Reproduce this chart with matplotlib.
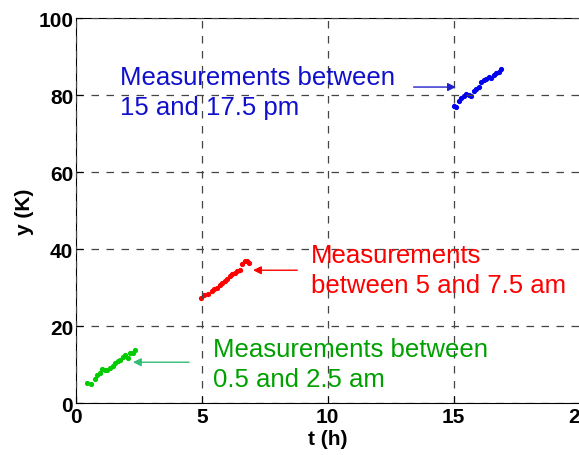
import matplotlib.pyplot as plt

# data
t_am_early = [0.45, 0.6, 0.75, 0.85, 0.95, 1.05, 1.15, 1.25, 1.35, 1.45, 1.55, 1.65, 1.75, 1.85, 1.95, 2.05, 2.15, 2.25, 2.35]
y_am_early = [5.1, 4.9, 6.2, 7.3, 7.8, 8.8, 8.7, 8.6, 9.0, 9.7, 10.3, 10.9, 11.3, 12.0, 12.6, 11.6, 13.0, 13.1, 13.7]

t_am = [4.98, 5.1, 5.25, 5.4, 5.5, 5.6, 5.7, 5.8, 5.9, 6.0, 6.1, 6.2, 6.3, 6.4, 6.5, 6.6, 6.7, 6.8, 6.87]
y_am = [27.3, 28.1, 28.4, 29.2, 29.6, 30.0, 30.6, 31.3, 31.7, 32.2, 32.9, 33.5, 33.8, 34.2, 34.6, 36.0, 36.8, 37.0, 36.5]

t_pm = [15.02, 15.1, 15.2, 15.3, 15.4, 15.5, 15.6, 15.7, 15.8, 15.9, 16.0, 16.1, 16.2, 16.3, 16.4, 16.5, 16.6, 16.7, 16.8, 16.9]
y_pm = [77.3, 76.8, 78.5, 79.2, 79.8, 80.3, 80.1, 79.8, 81.1, 81.6, 82.1, 83.3, 83.9, 84.3, 84.6, 84.4, 85.3, 85.8, 86.1, 86.7]

blue = '#0000ee'
red = '#ff0000'
green = '#00cc00'

plt.rcParams['font.family'] = ['Liberation Sans', 'DejaVu Sans']

fig = plt.figure(figsize=(5.79, 4.56), dpi=100)
ax = fig.add_axes([0.1313, 0.114, 0.8696, 0.844])

ax.plot(t_am_early, y_am_early, '.', color=green, markersize=5.5)
ax.plot(t_am, y_am, '.', color=red, markersize=5.5)
ax.plot(t_pm, y_pm, '.', color=blue, markersize=5.5)

ax.set_xlim(0, 20)
ax.set_ylim(0, 100)
ax.set_xticks([0, 5, 10, 15, 20])
ax.set_yticks([0, 20, 40, 60, 80, 100])
ax.tick_params(direction='in', length=5, labelsize=15, pad=2)
ax.tick_params(axis='x', pad=3)
for lab in ax.get_xticklabels() + ax.get_yticklabels():
    lab.set_fontweight('bold')
ax.grid(True, linestyle=(0, (6, 6)), color='#444444', linewidth=0.9)
ax.set_axisbelow(False)
ax.set_xlabel('t (h)', fontsize=15, fontweight='bold', labelpad=2)
ax.set_ylabel('y (K)', fontsize=15, fontweight='bold', labelpad=3)

fs = 18.5
ax.text(1.75, 80.8, 'Measurements between\n15 and 17.5 pm', color='#1010cc', fontsize=fs,
        va='center', linespacing=1.3)
ax.annotate('', xy=(15.2, 82.1), xytext=(13.3, 82.1),
            arrowprops=dict(arrowstyle='-|>', color='#2020cc', lw=1, mutation_scale=12))

ax.text(9.34, 34.5, 'Measurements\nbetween 5 and 7.5 am', color=red, fontsize=fs,
        va='center', linespacing=1.3)
ax.annotate('', xy=(6.92, 34.5), xytext=(8.9, 34.5),
            arrowprops=dict(arrowstyle='-|>', color=red, lw=1, mutation_scale=12))

ax.text(5.45, 10.1, 'Measurements between\n0.5 and 2.5 am', color='#00a000', fontsize=fs,
        va='center', linespacing=1.3)
ax.annotate('', xy=(2.15, 10.6), xytext=(4.6, 10.6),
            arrowprops=dict(arrowstyle='-|>', color='#33bb77', lw=1, mutation_scale=12))

fig.savefig('out.png', dpi=100)
